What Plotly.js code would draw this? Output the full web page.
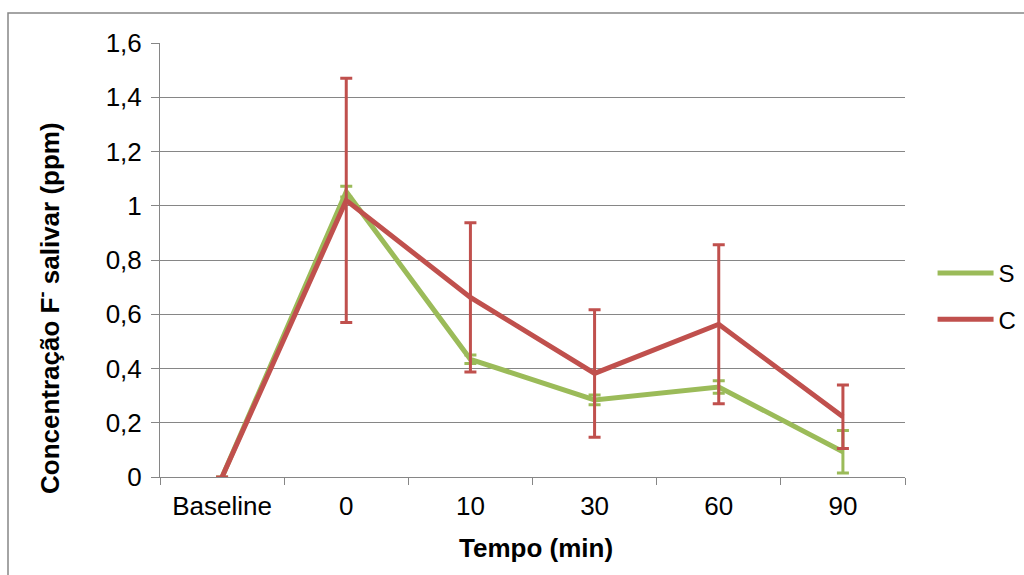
<!DOCTYPE html>
<html>
<head>
<meta charset="utf-8">
<script src="https://cdn.plot.ly/plotly-3.0.1.min.js"></script>
<style>
  html, body { margin: 0; padding: 0; background: #fff; }
  #chart { width: 1024px; height: 575px; }
</style>
</head>
<body>
<div id="chart"></div>
<script>
const categories = ["Baseline", "0", "10", "30", "60", "90"];
const sValues = [0, 1.052, 0.434, 0.284, 0.332, 0.093];
const sErrors = [null, 0.02, 0.016, 0.018, 0.023, 0.078];
const cValues = [0, 1.02, 0.662, 0.382, 0.563, 0.222];
const cErrors = [null, 0.45, 0.275, 0.235, 0.293, 0.117];
const yTickVals = [0, 0.2, 0.4, 0.6, 0.8, 1, 1.2, 1.4, 1.6];
const yTickText = ["0", "0,2", "0,4", "0,6", "0,8", "1", "1,2", "1,4", "1,6"];
const xTitle = "Tempo (min)";
const yTitle = "Concentração F<sup>-</sup> salivar (ppm)";

const green = "#9BBB59";
const red = "#C0504D";

const traces = [
  {
    name: "S", x: categories, y: sValues, type: "scatter", mode: "lines",
    line: { color: green, width: 5 },
    error_y: { type: "data", array: sErrors, visible: true, color: green, thickness: 3, width: 6 },
    legendgroup: "s"
  },
  {
    name: "C", x: categories, y: cValues, type: "scatter", mode: "lines",
    line: { color: red, width: 5 },
    error_y: { type: "data", array: cErrors, visible: true, color: red, thickness: 3, width: 6 },
    legendgroup: "c"
  }
];

const font = "Liberation Sans, Arial, sans-serif";
const tickSize = 26;
const titleSize = 26;
const layout = {
  width: 1024, height: 575,
  margin: { l: 160, r: 119, t: 43, b: 98, autoexpand: false },
  paper_bgcolor: "#fff", plot_bgcolor: "#fff",
  font: { family: font, size: tickSize, color: "#000" },
  showlegend: true,
  legend: {
    x: 1.037, y: 0.416, xanchor: "left", yanchor: "middle",
    traceorder: "grouped", tracegroupgap: 12,
    font: { family: font, size: 24, color: "#000" },
    itemwidth: 56
  },
  xaxis: {
    type: "category",
    range: [-0.5, 5.5],
    tickson: "boundaries",
    ticks: "outside", ticklen: 7, tickcolor: "#868686", tickwidth: 1,
    showline: true, linecolor: "#868686", linewidth: 1,
    showgrid: false, zeroline: false,
    ticklabelstandoff: 6,
    automargin: false,
    tickfont: { family: font, size: tickSize, color: "#000" }
  },
  yaxis: {
    range: [0, 1.6],
    tickvals: yTickVals, ticktext: yTickText,
    ticks: "outside", ticklen: 8, tickcolor: "#868686", tickwidth: 1,
    showline: true, linecolor: "#868686", linewidth: 1,
    showgrid: true, gridcolor: "#868686", gridwidth: 1,
    zeroline: false,
    ticklabelstandoff: 4,
    automargin: false,
    tickfont: { family: font, size: tickSize, color: "#000" }
  },
  annotations: [
    {
      text: xTitle, xref: "paper", yref: "paper",
      x: (536 - 160) / 745, y: (477 - 548) / 434,
      xanchor: "center", yanchor: "middle", showarrow: false,
      font: { family: font, size: titleSize, color: "#000", weight: "bold" }
    },
    {
      text: yTitle, xref: "paper", yref: "paper",
      x: (48 - 160) / 745, y: (477 - 308) / 434,
      xanchor: "center", yanchor: "middle", showarrow: false, textangle: -90,
      font: { family: font, size: titleSize, color: "#000", weight: "bold" }
    }
  ],
  shapes: [
    {
      type: "rect", xref: "paper", yref: "paper",
      x0: (8 - 160) / 745, x1: (1040 - 160) / 745,
      y0: (477 - 600) / 434, y1: (477 - 13) / 434,
      line: { color: "#868686", width: 1.5 }, fillcolor: "rgba(0,0,0,0)", layer: "below"
    }
  ]
};

Plotly.newPlot("chart", traces, layout, { displayModeBar: false, staticPlot: true });
</script>
</body>
</html>
